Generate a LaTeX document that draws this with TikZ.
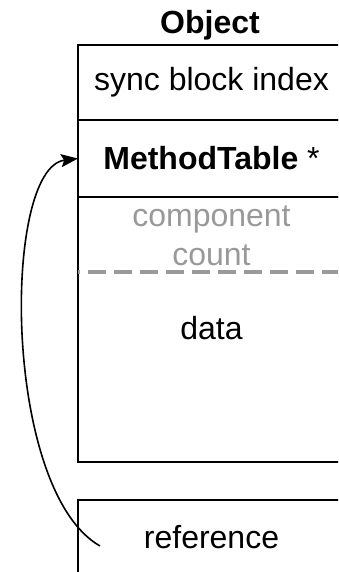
\documentclass[tikz,border=0pt]{standalone}
\usepackage{fontspec}
\setmainfont{Liberation Sans}
\usetikzlibrary{arrows.meta}

\begin{document}
\begin{tikzpicture}[x=0.5pt,y=-0.5pt,
        font=\fontsize{16}{19.2}\selectfont,
        cell/.style={draw, line width=1pt, minimum width=133.5pt, inner sep=0pt, outer sep=0pt}]
            \useasboundingbox (0,0) rectangle (338,572);
            \clip (0,0) rectangle (338,572);

            % object header and its slots
            \node[font=\fontsize{16}{19.2}\selectfont\bfseries] (objname) at (210,25) {Object};
            \node[cell, minimum height=37.5pt] (sync) at (211.5,82.5) {sync block index};
            \node[cell, minimum height=38.5pt] (mt) at (211.5,158.5) {\textbf{MethodTable} *};
            \node[cell, minimum height=132.5pt] (arr) at (211.5,329.5) {};

            % array part: length then payload
            \node[text=gray!80, align=center] (count) at (211.5,236) {component\\count};
            \draw[gray!80, line width=1.8pt, dash pattern=on 9pt off 4pt, dash phase=8pt] (78,272) -- (345,272);
            \node (data) at (211.5,328) {data};

            % the referencing slot
            \node[cell, minimum height=37.5pt] (ref) at (211.5,537.5) {reference};
            \coordinate (slot) at (100,546);

            \draw[-{Stealth[length=8.5pt,width=6.5pt,inset=1.5pt]}, line width=0.8pt] (slot) .. controls (2,490) and (2,168) .. (mt.west);
        \end{tikzpicture}
\end{document}
